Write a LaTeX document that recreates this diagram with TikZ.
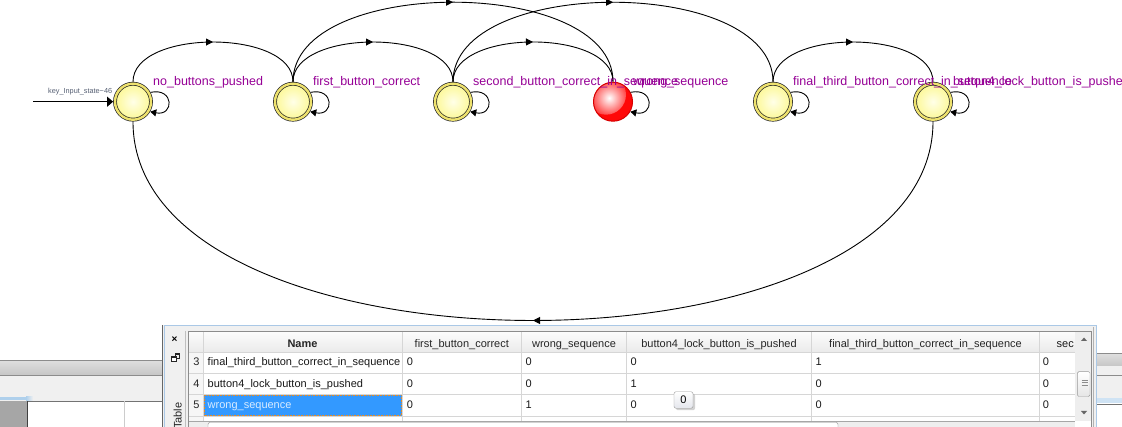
\documentclass[tikz,border=0pt]{standalone}
\usepackage{fontspec}
\setmainfont{Liberation Sans}
\usetikzlibrary{arrows.meta,decorations.markings,shadows}
\definecolor{lblpurple}{RGB}{150,0,150}
\definecolor{ringyellow}{RGB}{238,226,110}
\definecolor{stinner}{RGB}{255,255,232}
\definecolor{stouter}{RGB}{252,248,150}
\definecolor{redball}{RGB}{255,8,8}
\definecolor{redrim}{RGB}{215,0,0}
\definecolor{inlblcol}{RGB}{85,95,115}
\definecolor{gridc}{RGB}{214,214,214}
\definecolor{panelbg}{RGB}{240,240,240}
\definecolor{panelblue}{RGB}{170,200,230}
\definecolor{selblue}{RGB}{51,153,255}
\definecolor{seltext}{RGB}{215,235,255}
\definecolor{chromeline}{RGB}{140,140,140}
\definecolor{chrometop}{RGB}{222,222,222}
\definecolor{chromebot}{RGB}{198,198,198}
\definecolor{progblue}{RGB}{175,208,236}
\definecolor{orangedot}{RGB}{230,140,40}
\definecolor{hdrtop}{RGB}{252,252,252}
\definecolor{hdrbot}{RGB}{234,234,234}
\definecolor{rownumbg}{RGB}{246,246,246}
\definecolor{scrolltrack}{RGB}{238,238,238}
\definecolor{tiptop}{RGB}{255,255,255}
\definecolor{tipbot}{RGB}{228,230,236}
\begin{document}
\begin{tikzpicture}[x=1pt,y=-1pt,
  fsmstate/.style={circle, minimum size=36pt, inner sep=0pt, outer sep=1.9pt, draw=black!85, line width=0.7pt, double=ringyellow, double distance=2.4pt, inner color=stinner, outer color=stouter},
  errstate/.style={circle, minimum size=39pt, inner sep=0pt, outer sep=0.5pt, draw=redrim, line width=1pt, fill=redball, path picture={\shade[inner color=white, outer color=redball] ([xshift=-7pt,yshift=7pt]path picture bounding box.center) circle (20pt);}},
  fsmedge/.style={draw=black, line width=0.9pt, postaction={decorate}, decoration={markings, mark=at position 0.5 with {\arrow{Triangle[length=7pt,width=7pt]}}}},
  fsmloop/.style={draw=black, line width=0.9pt, -{Triangle[length=6pt,width=7pt]}},
  slabel/.style={anchor=base west, inner sep=0pt, text=lblpurple, font=\fontsize{12.5}{14}\selectfont},
  cell/.style={anchor=base west, inner sep=0pt, font=\fontsize{11}{13}\selectfont, text=black!90},
  hcell/.style={anchor=base, inner sep=0pt, font=\fontsize{11}{13}\selectfont, text=black!85},
  gridline/.style={draw=gridc, line width=0.8pt},
]
\useasboundingbox (0,0) rectangle (1122,427);
\fill[white] (0,0) rectangle (1122,427);

% ---------- window chrome, left ----------
\fill[panelbg] (0,360) rectangle (163,401);
\shade[top color=chrometop, bottom color=chromebot] (0,360.5) rectangle (163,375);
\draw[chromeline] (0,360) -- (163,360);
\draw[chromeline] (0,375.5) -- (163,375.5);
\fill[progblue] (0,397) rectangle (26,400.5);
\shade[left color=progblue, right color=panelbg] (26,397) rectangle (33,400.5);
\draw[black!55] (0,401) -- (163,401);
\fill[black!35] (0,401.5) rectangle (27,427);
\draw[black!75] (27,401.5) -- (27,427);
\draw[black!20] (124,401.5) -- (124,427);

% ---------- window chrome, right ----------
\fill[panelbg] (1097,353.5) rectangle (1122,403);
\shade[top color=chrometop, bottom color=chromebot] (1097,354) rectangle (1122,366);
\draw[chromeline] (1097,353.5) -- (1122,353.5);
\draw[chromeline] (1097,375) -- (1122,375);
\fill[progblue!60] (1097,398) rectangle (1122,403);
\draw[black!55] (1097,404.5) -- (1122,404.5);

% ---------- table panel ----------
\fill[panelbg] (163,325) rectangle (1097,427);
\draw[black!60] (162.5,325) -- (162.5,427);
\draw[panelblue] (164.5,427) -- (164.5,325.5) -- (1096.5,325.5) -- (1096.5,427);
\draw[black!25] (185.5,331) -- (185.5,427);
\node[font=\fontsize{10}{10}\selectfont\bfseries, inner sep=0pt] (closex) at (174.5,339.5) {×};
\draw[black!85, line width=0.9pt] (175,354) rectangle (179.5,358.5);
\draw[black!85, line width=1.6pt] (175,354.3) -- (179.5,354.3);
\fill[white] (171.5,356.5) rectangle (176.5,361);
\draw[black!85, line width=0.9pt] (171.5,356.5) rectangle (176.5,361);
\draw[black!85, line width=1.6pt] (171.5,356.8) -- (176.5,356.8);
\node[rotate=90, anchor=base west, inner sep=0pt, font=\fontsize{11}{13}\selectfont, text=black!85] (tabletitle) at (181.5,429) {Table};

\fill[white] (188,331) rectangle (1092,427);
\shade[top color=hdrtop, bottom color=hdrbot] (189,332) rectangle (1075,352.5);
\fill[rownumbg] (189,353) rectangle (203,421);
\fill[selblue] (203.5,395) rectangle (401.5,416);
\draw[orangedot, densely dotted, line width=0.6pt] (204,395.5) rectangle (401,415.5);
\foreach \yy in {352.5,373.5,394.5,416.5} {\draw[gridline] (189,\yy) -- (1075,\yy);}
\foreach \xx in {203,402,521.5,626.5,811.5,1039} {\draw[gridline] (\xx,332) -- (\xx,421);}
\draw[black!45] (188.5,427) -- (188.5,331.5) -- (1091.5,331.5) -- (1091.5,427);
\draw[black!30] (1093.5,327) -- (1093.5,427);

% vertical scrollbar
\fill[scrolltrack] (1075,332) rectangle (1091,421);
\fill[black!60] (1081,341) -- (1087,341) -- (1084,337.5) -- cycle;
\fill[black!60] (1081,411) -- (1087,411) -- (1084,414.5) -- cycle;
\shade[top color=white, bottom color=black!10, draw=black!40, rounded corners=1.5pt] (1077.3,371.7) rectangle (1090,396.5);
\foreach \yy in {380,382.7,385.4} {\draw[black!45, line width=0.6pt] (1081.5,\yy) -- (1087.5,\yy);}
% horizontal scrollbar
\fill[scrolltrack] (189,421) rectangle (1075,427);
\draw[black!35] (189,421) -- (1075,421);
\draw[black!45, fill=white, rounded corners=2pt] (208,422.5) rectangle (838,432);

% header texts
\node[hcell, font=\fontsize{11}{13}\selectfont\bfseries] (hname) at (302.5,347.3) {Name};
\node[hcell] (hfirst) at (461.8,347.3) {first\_button\_correct};
\node[hcell] (hwrong) at (574,347.3) {wrong\_sequence};
\node[hcell] (hbtn) at (719,347.3) {button4\_lock\_button\_is\_pushed};
\node[hcell] (hfinal) at (925.5,347.3) {final\_third\_button\_correct\_in\_sequence};
\node[cell] (hsec) at (1056.5,347.3) {sec};

% row 3
\node[hcell] (rn3) at (196.5,366) {3};
\node[cell] (rname3) at (207.5,366) {final\_third\_button\_correct\_in\_sequence};
\node[cell] (ra3) at (406.7,366) {0};
\node[cell] (rb3) at (525.5,366) {0};
\node[cell] (rc3) at (630.5,366) {0};
\node[cell] (rd3) at (815.5,366) {1};
\node[cell] (re3) at (1042.7,366) {0};
% row 4
\node[hcell] (rn4) at (196.5,387.3) {4};
\node[cell] (rname4) at (207.5,387.3) {button4\_lock\_button\_is\_pushed};
\node[cell] (ra4) at (406.7,387.3) {0};
\node[cell] (rb4) at (525.5,387.3) {0};
\node[cell] (rc4) at (630.5,387.3) {1};
\node[cell] (rd4) at (815.5,387.3) {0};
\node[cell] (re4) at (1042.7,387.3) {0};
% row 5
\node[hcell] (rn5) at (196.5,409) {5};
\node[cell, text=seltext] (rname5) at (207.5,409) {wrong\_sequence};
\node[cell] (ra5) at (406.7,409) {0};
\node[cell] (rb5) at (525.5,409) {1};
\node[cell] (rc5) at (630.5,409) {0};
\node[cell] (rd5) at (815.5,409) {0};
\node[cell] (re5) at (1042.7,409) {0};
% tooltip
\node[draw=black!40, rounded corners=2pt, top color=tiptop, bottom color=tipbot, minimum width=19pt, minimum height=16.5pt, inner sep=0pt, font=\fontsize{11}{13}\selectfont, drop shadow={shadow xshift=2pt, shadow yshift=-2pt, opacity=0.35}] (tip) at (683.5,400) {0};

% ---------- state machine ----------
\node[fsmstate] (s1) at (133,101.7) {};
\node[fsmstate] (s2) at (293,101.7) {};
\node[fsmstate] (s3) at (453,101.7) {};
\node[errstate] (s4) at (613,101.7) {};
\node[fsmstate] (s5) at (773,101.7) {};
\node[fsmstate] (s6) at (933,101.7) {};

\draw[fsmedge] (s1.north) to[out=90,in=90,looseness=0.85] (s2.north);
\draw[fsmedge] (s2.north) to[out=90,in=90,looseness=0.85] (s3.north);
\draw[fsmedge] (s3.north) to[out=90,in=90,looseness=0.85] (s4.north);
\draw[fsmedge] (s5.north) to[out=90,in=90,looseness=0.85] (s6.north);
\draw[fsmedge] (s2.north) to[out=90,in=90,looseness=0.85] (s4.north);
\draw[fsmedge] (s3.north) to[out=90,in=90,looseness=0.85] (s5.north);
\draw[fsmedge] (s6.south) to[out=-90,in=-90,looseness=0.85] (s1.south);

\foreach \s in {s1,s2,s3,s4,s5,s6} {
  \draw[fsmloop] (\s.28) .. controls +(24,-5) and +(24,5) .. (\s.-30);
}

\coordinate (instart) at (33,101.7);
\draw[line width=1pt, -{Triangle[length=6pt,width=10pt]}] (instart) -- (s1.west);
\node[anchor=base west, inner sep=0pt, text=inlblcol, font=\fontsize{7.3}{8}\selectfont] (inlbl) at (48,94) {key\_Input\_state\textasciitilde 46};

\node[slabel] (l1) at (153,85.5) {no\_buttons\_pushed};
\node[slabel] (l2) at (313,85.5) {first\_button\_correct};
\node[slabel] (l3) at (473,85.5) {second\_button\_correct\_in\_sequence};
\node[slabel] (l4) at (633,85.5) {wrong\_sequence};
\node[slabel] (l5) at (793,85.5) {final\_third\_button\_correct\_in\_sequence};
\node[slabel] (l6) at (953,85.5) {button4\_lock\_button\_is\_pushed};
\end{tikzpicture}
\end{document}
